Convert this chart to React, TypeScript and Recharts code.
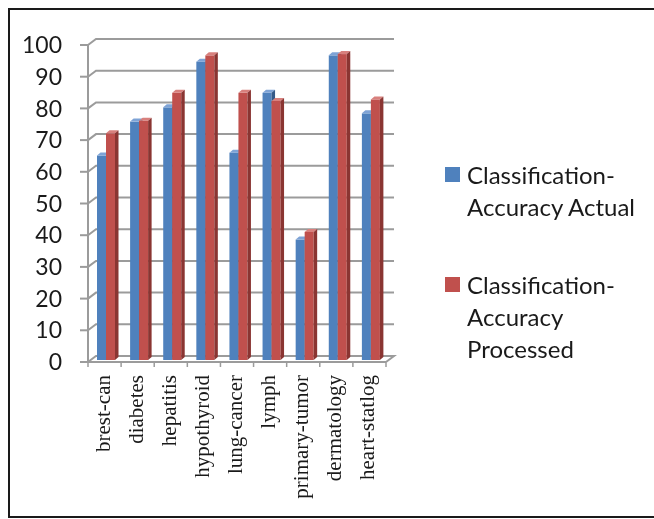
import React from "react";
import { BarChart, Bar, XAxis, YAxis, CartesianGrid, Legend } from "recharts";

const categories = [
  "brest-can",
  "diabetes",
  "hepatitis",
  "hypothyroid",
  "lung-cancer",
  "lymph",
  "primary-tumor",
  "dermatology",
  "heart-statlog",
];
const actual = [64.5, 75.2, 79.7, 94.1, 65.4, 84.3, 38.0, 96.1, 77.8];
const processed = [71.5, 75.5, 84.3, 96.1, 84.3, 81.7, 40.4, 96.5, 82.2];
const yTicks = [0, 10, 20, 30, 40, 50, 60, 70, 80, 90, 100];
const seriesNames = ["Classification-Accuracy Actual", "Classification-Accuracy Processed"];

const data = categories.map((name, i) => ({ name, actual: actual[i], processed: processed[i] }));

const W = 654;
const H = 519;
const M = { top: 45, right: 268, bottom: 0, left: 0 };
const YW = 88;
const XH = 157;
const PLOT_W = W - M.left - M.right - YW;
const DX = 8;
const DY = 6;
const GRID = "#9b9b9b";
const TICK_SIZE = 5;
const TICK_MARGIN = 8;

const BLUE = { front: "#4f81bd", top: "#7ea3d6", side: "#345a88" };
const RED = { front: "#c0504d", top: "#d8807d", side: "#8a3532" };

const make3D = (c: { front: string; top: string; side: string }) => (props: any) => {
  const { x, y, width, height } = props;
  if (width == null || height == null) return <g />;
  const bx = x + 1;
  const by = y - 2;
  const d = 3.5;
  const dv = 3;
  return (
    <g>
      <rect x={bx} y={by} width={width} height={height} fill={c.front} />
      <polygon
        points={`${bx},${by} ${bx + d},${by - dv} ${bx + width + d},${by - dv} ${bx + width},${by}`}
        fill={c.top}
      />
      <polygon
        points={`${bx + width},${by} ${bx + width + d},${by - dv} ${bx + width + d},${by + height - dv} ${bx + width},${by + height}`}
        fill={c.side}
      />
    </g>
  );
};

const gridLine = (props: any) => {
  const { x1, x2, y1, index } = props;
  const isFloor = Math.abs(y1 - (H - M.bottom - XH)) < 0.5;
  let d = `M${x1},${y1} L${x1 + DX},${y1 - DY} L${x2 + DX},${y1 - DY}`;
  if (isFloor) d += ` L${x2},${y1}`;
  return <path key={`g-${index}-${y1}`} d={d} stroke={GRID} strokeWidth={2} fill="none" />;
};

const XTick = (props: any) => {
  const { x, y, payload, index } = props;
  const bw = PLOT_W / categories.length;
  const y0 = y - TICK_MARGIN - TICK_SIZE;
  return (
    <g>
      <line x1={x - bw / 2} y1={y0} x2={x - bw / 2} y2={y0 + TICK_SIZE} stroke={GRID} strokeWidth={1.5} />
      {index === categories.length - 1 && (
        <line x1={x + bw / 2} y1={y0} x2={x + bw / 2} y2={y0 + TICK_SIZE} stroke={GRID} strokeWidth={1.5} />
      )}
      <text
        x={x + 5}
        y={y}
        transform={`rotate(-90 ${x + 5} ${y})`}
        textAnchor="end"
        fontFamily="'Liberation Serif', 'Times New Roman', serif"
        fontSize={21}
        fill="#1a1a1a"
      >
        {payload.value}
      </text>
    </g>
  );
};

const LegendContent = (props: any) => {
  const { payload } = props;
  return (
    <div style={{ fontFamily: "Lato, 'Open Sans', sans-serif", fontSize: 24, lineHeight: "32px", color: "#1a1a1a" }}>
      {(payload || []).map((p: any, i: number) => (
        <div key={i} style={{ display: "flex", alignItems: "flex-start", marginTop: i === 0 ? 0 : 46 }}>
          <div style={{ width: 15, height: 15, background: p.color, marginTop: 8, marginRight: 7, flex: "none" }} />
          <div style={{ width: 190 }}>{p.value}</div>
        </div>
      ))}
    </div>
  );
};

export default function App() {
  return (
    <div style={{ position: "fixed", left: 8, top: 8, width: 646, height: 511, overflow: "hidden" }}>
      <div
        style={{
          position: "absolute",
          left: 0,
          top: 0,
          width: 646,
          height: 510,
          boxSizing: "border-box",
          borderLeft: "2px solid #1a1a1a",
          borderTop: "2px solid #1a1a1a",
          borderBottom: "2px solid #1a1a1a",
        }}
      />
      <div style={{ position: "absolute", left: -8, top: -8 }}>
        <BarChart width={W} height={H} data={data} margin={M} barSize={9} barGap={0}>
          <CartesianGrid vertical={false} horizontal={gridLine} />
          <XAxis
            dataKey="name"
            interval={0}
            height={XH}
            tick={<XTick />}
            tickLine={false}
            tickSize={TICK_SIZE}
            tickMargin={TICK_MARGIN}
            axisLine={{ stroke: GRID, strokeWidth: 2 }}
          />
          <YAxis
            width={YW}
            domain={[0, 100]}
            ticks={yTicks}
            interval={0}
            tickSize={8}
            tickMargin={18}
            tickLine={{ stroke: GRID, strokeWidth: 2 }}
            axisLine={{ stroke: GRID, strokeWidth: 2 }}
            tick={{ fontFamily: "Lato, 'Open Sans', sans-serif", fontSize: 23, fill: "#1a1a1a" }}
          />
          <Legend
            layout="horizontal"
            verticalAlign="middle"
            align="center"
            content={<LegendContent />}
            wrapperStyle={{ left: 445, top: 159, width: 205, height: 210 }}
          />
          <Bar dataKey="actual" name={seriesNames[0]} fill={BLUE.front} shape={make3D(BLUE)} isAnimationActive={false} />
          <Bar dataKey="processed" name={seriesNames[1]} fill={RED.front} shape={make3D(RED)} isAnimationActive={false} />
        </BarChart>
      </div>
    </div>
  );
}
